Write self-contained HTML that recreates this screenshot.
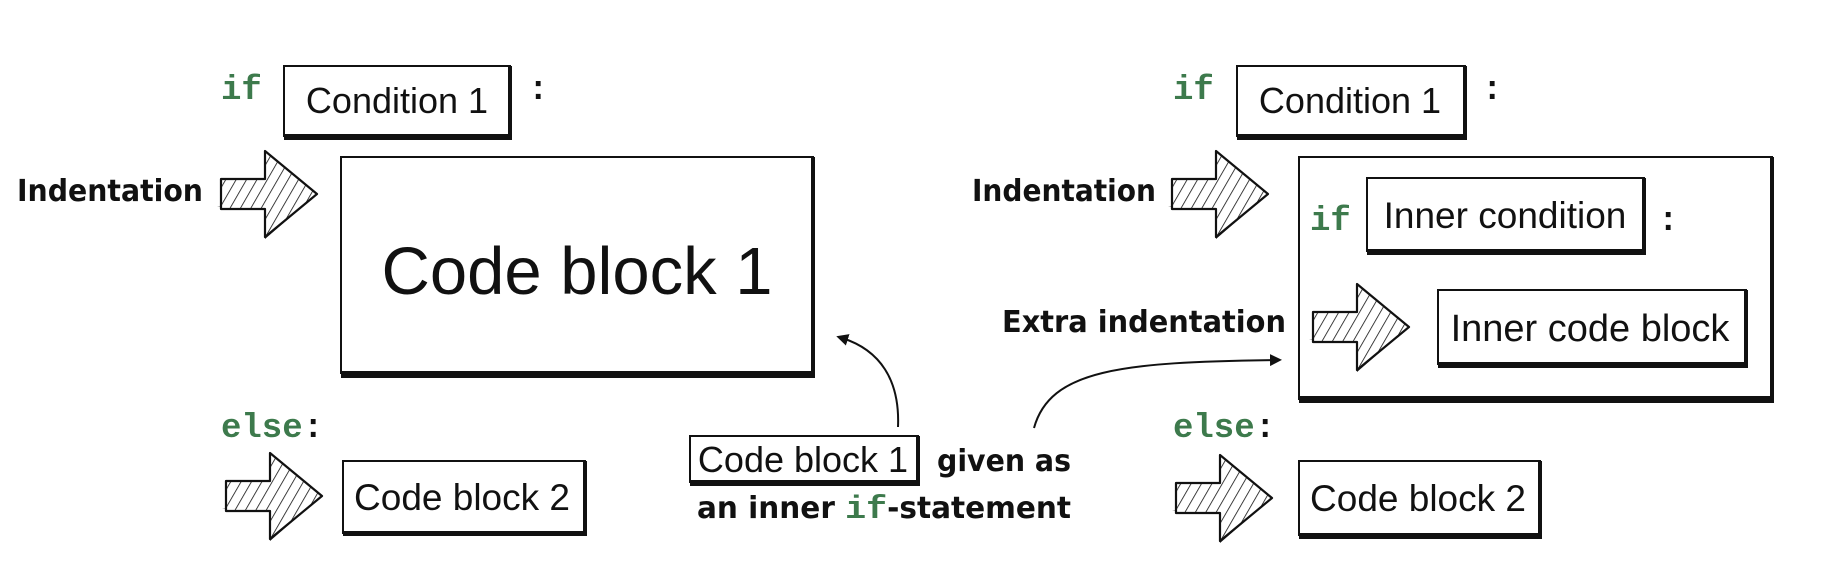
<!DOCTYPE html>
<html><head><meta charset="utf-8"><style>
html,body{margin:0;padding:0;background:#fff;}
svg{display:block}
.t{font-family:"Liberation Sans",sans-serif;fill:#111}
.l{font-family:"DejaVu Sans Condensed","DejaVu Sans",sans-serif;font-weight:bold;fill:#111;font-size:30px}
.k{font-family:"Liberation Mono",monospace;font-weight:bold;fill:#3d7a4c;font-size:34px}
.c{font-family:"Liberation Mono",monospace;font-weight:bold;fill:#111;font-size:34px}
</style></head><body>
<svg width="1844" height="576" viewBox="0 0 1844 576" xmlns="http://www.w3.org/2000/svg">
<defs>
<pattern id="h" width="9" height="9" patternUnits="userSpaceOnUse" patternTransform="rotate(30)">
<rect width="9" height="9" fill="#fff"/><line x1="0" y1="0" x2="0" y2="9" stroke="#111" stroke-width="1.6"/></pattern>
<g id="arr">
<path d="M-4 56 L44 56 L44 88 L96 43 Z" fill="#111"/>
<path d="M0 28 L44 28 L44 0 L96 43 L44 86 L44 58 L0 58 Z" fill="url(#h)" stroke="#111" stroke-width="2.2" stroke-linejoin="round"/>
</g>
<marker id="m" markerWidth="12" markerHeight="12" refX="6" refY="6" orient="auto" markerUnits="userSpaceOnUse"><path d="M0 0 L12 6 L0 12 Z" fill="#111"/></marker>
</defs>
<g fill="#fff" stroke="#111" stroke-width="2">
<rect x="284" y="66" width="226" height="70"/>
<rect x="341" y="157" width="472" height="216"/>
<rect x="343" y="461" width="242" height="72"/>
<rect x="690" y="436" width="228" height="46"/>
<rect x="1237" y="66" width="228" height="70"/>
<rect x="1299" y="157" width="473" height="242"/>
<rect x="1367" y="178" width="277" height="73"/>
<rect x="1438" y="290" width="308" height="74"/>
<rect x="1299" y="461" width="241" height="74"/>
</g>
<g fill="#111">
<rect x="284" y="134" width="228" height="6"/><rect x="508" y="66" width="4" height="72"/>
<rect x="341" y="371" width="474" height="7"/><rect x="811" y="157" width="4" height="218"/>
<rect x="343" y="531" width="244" height="5"/><rect x="583" y="461" width="4" height="74"/>
<rect x="690" y="480" width="230" height="6"/><rect x="916" y="436" width="4" height="48"/>
<rect x="1237" y="134" width="230" height="6"/><rect x="1463" y="66" width="4" height="72"/>
<rect x="1299" y="396" width="475" height="7"/><rect x="1770" y="157" width="4" height="244"/>
<rect x="1367" y="249" width="279" height="6"/><rect x="1642" y="178" width="4" height="75"/>
<rect x="1438" y="362" width="310" height="6"/><rect x="1744" y="290" width="4" height="76"/>
<rect x="1299" y="533" width="243" height="6"/><rect x="1538" y="461" width="4" height="76"/>
</g>
<use href="#arr" x="221" y="151"/>
<use href="#arr" x="226" y="453"/>
<use href="#arr" x="1172" y="151"/>
<use href="#arr" x="1313" y="284"/>
<use href="#arr" x="1176" y="455"/>
<path d="M898 427 C900 380 880 350 842 338" fill="none" stroke="#111" stroke-width="2" marker-end="url(#m)"/>
<path d="M1034 428 C1050 370 1120 362 1276 360" fill="none" stroke="#111" stroke-width="2" marker-end="url(#m)"/>
<g class="t">
<text x="397" y="113" text-anchor="middle" font-size="36">Condition 1</text>
<text x="577" y="294" text-anchor="middle" font-size="67">Code block 1</text>
<text x="462" y="510" text-anchor="middle" font-size="37">Code block 2</text>
<text x="803" y="472" text-anchor="middle" font-size="36">Code block 1</text>
<text x="1350" y="113" text-anchor="middle" font-size="36">Condition 1</text>
<text x="1505" y="228" text-anchor="middle" font-size="37">Inner condition</text>
<text x="1590" y="341" text-anchor="middle" font-size="38">Inner code block</text>
<text x="1418" y="511" text-anchor="middle" font-size="37">Code block 2</text>
</g>
<text class="k" x="221" y="99">if</text><text class="c" x="528" y="99">:</text>
<text class="l" x="17" y="201" textLength="186" lengthAdjust="spacingAndGlyphs">Indentation</text>
<text class="k" x="221" y="437">else</text><text class="c" x="303" y="437">:</text>
<text class="l" x="937" y="471" textLength="134" lengthAdjust="spacingAndGlyphs">given as</text>
<text class="l" x="697" y="518" textLength="374" lengthAdjust="spacingAndGlyphs">an inner <tspan class="k" style="font-size:32px">if</tspan>-statement</text>
<text class="k" x="1173" y="99">if</text><text class="c" x="1482" y="99">:</text>
<text class="l" x="972" y="201" textLength="184" lengthAdjust="spacingAndGlyphs">Indentation</text>
<text class="k" x="1310" y="230">if</text><text class="c" x="1658" y="230">:</text>
<text class="l" x="1002" y="332" textLength="284" lengthAdjust="spacingAndGlyphs">Extra indentation</text>
<text class="k" x="1173" y="437">else</text><text class="c" x="1255" y="437">:</text>
</svg>
</body></html>
